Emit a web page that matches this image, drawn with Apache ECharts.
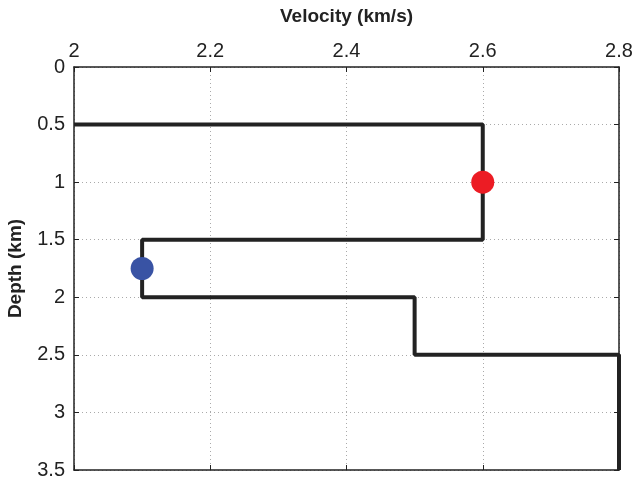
<!DOCTYPE html>
<html>
<head>
<meta charset="utf-8">
<script src="https://cdn.jsdelivr.net/npm/echarts@6/dist/echarts.min.js"></script>
<style>html,body{margin:0;padding:0;background:#fff;}#c{width:634px;height:479px;}</style>
</head>
<body>
<div id="c"></div>
<script>
const velocity = [2, 2.6, 2.6, 2.1, 2.1, 2.5, 2.5, 2.8, 2.8];
const depth = [0.5, 0.5, 1.5, 1.5, 2.0, 2.0, 2.5, 2.5, 3.5];
const redPoint = [2.6, 1.0];
const bluePoint = [2.1, 1.75];
const xTicks = [2, 2.2, 2.4, 2.6, 2.8];
const yTicks = [0, 0.5, 1, 1.5, 2, 2.5, 3, 3.5];

const font = 'Liberation Sans, Arial, Helvetica, sans-serif';
const chart = echarts.init(document.getElementById('c'));
const lineData = velocity.map((v, i) => [v, depth[i]]);

const baseX = {
  type: 'value', min: 2, max: 2.8, interval: 0.2,
  axisLine: { show: true, onZero: false, lineStyle: { color: '#222', width: 1.5 } },
  axisTick: { show: true, inside: true, length: 5, lineStyle: { color: '#222' } },
};
const baseY = {
  type: 'value', min: 0, max: 3.5, interval: 0.5, inverse: true,
  axisLine: { show: true, onZero: false, lineStyle: { color: '#222', width: 1.5 } },
  axisTick: { show: true, inside: true, length: 5, lineStyle: { color: '#222' } },
};

chart.setOption({
  animation: false,
  grid: { left: 74, top: 67, width: 545, height: 403, containLabel: false, outerBoundsMode: 'none' },
  xAxis: [
    Object.assign({}, baseX, {
      position: 'top',
      name: 'Velocity (km/s)', nameLocation: 'middle', nameGap: 41,
      nameTextStyle: { fontFamily: font, fontSize: 19, fontWeight: 'bold', color: '#222' },
      axisLabel: { show: true, margin: 6, fontFamily: font, fontSize: 20, color: '#222',
        formatter: v => String(+v.toFixed(1)) },
      splitLine: { show: true, lineStyle: { type: [1, 3], color: '#aaa', width: 1 } }
    }),
    Object.assign({}, baseX, {
      position: 'bottom',
      axisLabel: { show: false },
      splitLine: { show: false }
    })
  ],
  yAxis: [
    Object.assign({}, baseY, {
      position: 'left',
      name: 'Depth (km)', nameLocation: 'middle', nameGap: 49, nameRotate: 90,
      nameTextStyle: { fontFamily: font, fontSize: 19, fontWeight: 'bold', color: '#222' },
      axisLabel: { show: true, margin: 9, fontFamily: font, fontSize: 20, color: '#222',
        formatter: v => String(+v.toFixed(1)) },
      splitLine: { show: true, lineStyle: { type: [1, 3], color: '#aaa', width: 1 } }
    }),
    Object.assign({}, baseY, {
      position: 'right',
      axisLabel: { show: false },
      splitLine: { show: false }
    })
  ],
  series: [
    {
      type: 'line', xAxisIndex: 0, yAxisIndex: 0,
      data: lineData, showSymbol: false, symbol: 'none',
      lineStyle: { color: '#222', width: 4 }, z: 3
    },
    {
      type: 'scatter', xAxisIndex: 0, yAxisIndex: 0,
      data: [redPoint], symbol: 'circle', symbolSize: 23,
      itemStyle: { color: '#ec1c24', opacity: 1 }, z: 5
    },
    {
      type: 'scatter', xAxisIndex: 0, yAxisIndex: 0,
      data: [bluePoint], symbol: 'circle', symbolSize: 23,
      itemStyle: { color: '#3953a4', opacity: 1 }, z: 5
    }
  ]
});
</script>
</body>
</html>
